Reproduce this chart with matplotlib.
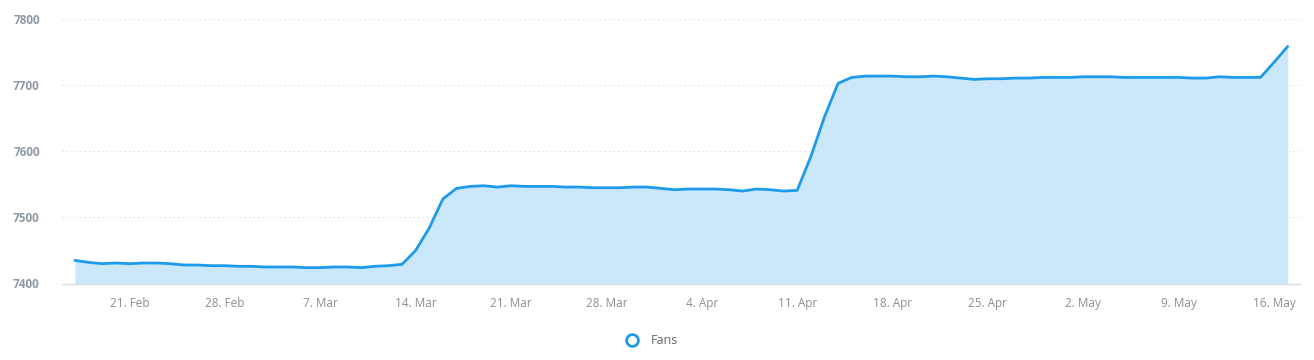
import matplotlib
matplotlib.use("Agg")
import matplotlib.pyplot as plt
import matplotlib.dates as mdates
from matplotlib.lines import Line2D
import numpy as np
import datetime

# daily fan count, 17 Feb - 17 May
start = datetime.date(2021, 2, 17)
fans = [7435, 7432, 7430, 7431, 7430, 7431, 7431, 7430, 7428, 7428,
        7427, 7427, 7426, 7426, 7425, 7425, 7425, 7424, 7424, 7425,
        7425, 7424, 7426, 7427, 7429, 7450, 7484, 7528, 7544, 7547,
        7548, 7546, 7548, 7547, 7547, 7547, 7546, 7546, 7545, 7545,
        7545, 7546, 7546, 7544, 7542, 7543, 7543, 7543, 7542, 7540,
        7543, 7542, 7540, 7541, 7592, 7652, 7703, 7712, 7714, 7714,
        7714, 7713, 7713, 7714, 7713, 7711, 7709, 7710, 7710, 7711,
        7711, 7712, 7712, 7712, 7713, 7713, 7713, 7712, 7712, 7712,
        7712, 7712, 7711, 7711, 7713, 7712, 7712, 7712, 7735, 7759]
dates = [start + datetime.timedelta(days=i) for i in range(len(fans))]
tick_dates = [datetime.date(2021, 2, 21) + datetime.timedelta(days=7 * i) for i in range(13)]
y_ticks = [7400, 7500, 7600, 7700, 7800]

line_col = '#1d9bea'
fill_col = '#cbe8fb'

plt.rcParams['font.family'] = ['Open Sans', 'DejaVu Sans']
fig = plt.figure(figsize=(13.14, 3.6), dpi=100)
ax = fig.add_axes([62 / 1314, 1 - 283.5 / 360, (1300 - 62) / 1314, (283.5 - 19.3) / 360])

x = mdates.date2num(dates)
ax.fill_between(x, fans, 7400, color=fill_col, lw=0)
ax.plot(x, fans, color=line_col, lw=2.0, solid_capstyle='round', solid_joinstyle='round')

ax.set_xlim(x[0] - 0.95, x[-1] + 0.9)
ax.set_ylim(7400, 7800)
ax.set_yticks(y_ticks)
ax.set_yticklabels([str(v) for v in y_ticks], fontsize=8.5, fontweight='bold', color='#8f9aa6')
ax.set_xticks(mdates.date2num(tick_dates))
ax.set_xticklabels([d.strftime('%-d. %b') for d in tick_dates], fontsize=8.5, color='#8e8e8e')
ax.tick_params(axis='both', length=0)
ax.tick_params(axis='y', pad=16)
ax.tick_params(axis='x', pad=10)

for v in y_ticks[1:]:
    ax.axhline(v, color='#d6dbe0', lw=0.8, ls=(0, (1, 3)), zorder=0)
for s in ['top', 'right', 'left']:
    ax.spines[s].set_visible(False)
ax.spines['bottom'].set_color('#d5dde6')
ax.spines['bottom'].set_linewidth(1)

handle = Line2D([], [], marker='o', ls='none', markersize=8.5, markerfacecolor='white',
                markeredgecolor=line_col, markeredgewidth=2)
fig.legend([handle], ['Fans'], loc='center', bbox_to_anchor=(649 / 1314, 1 - 341 / 360),
           frameon=False, fontsize=9, labelcolor='#666666', handletextpad=0.5)

fig.savefig('out.png', dpi=100)
